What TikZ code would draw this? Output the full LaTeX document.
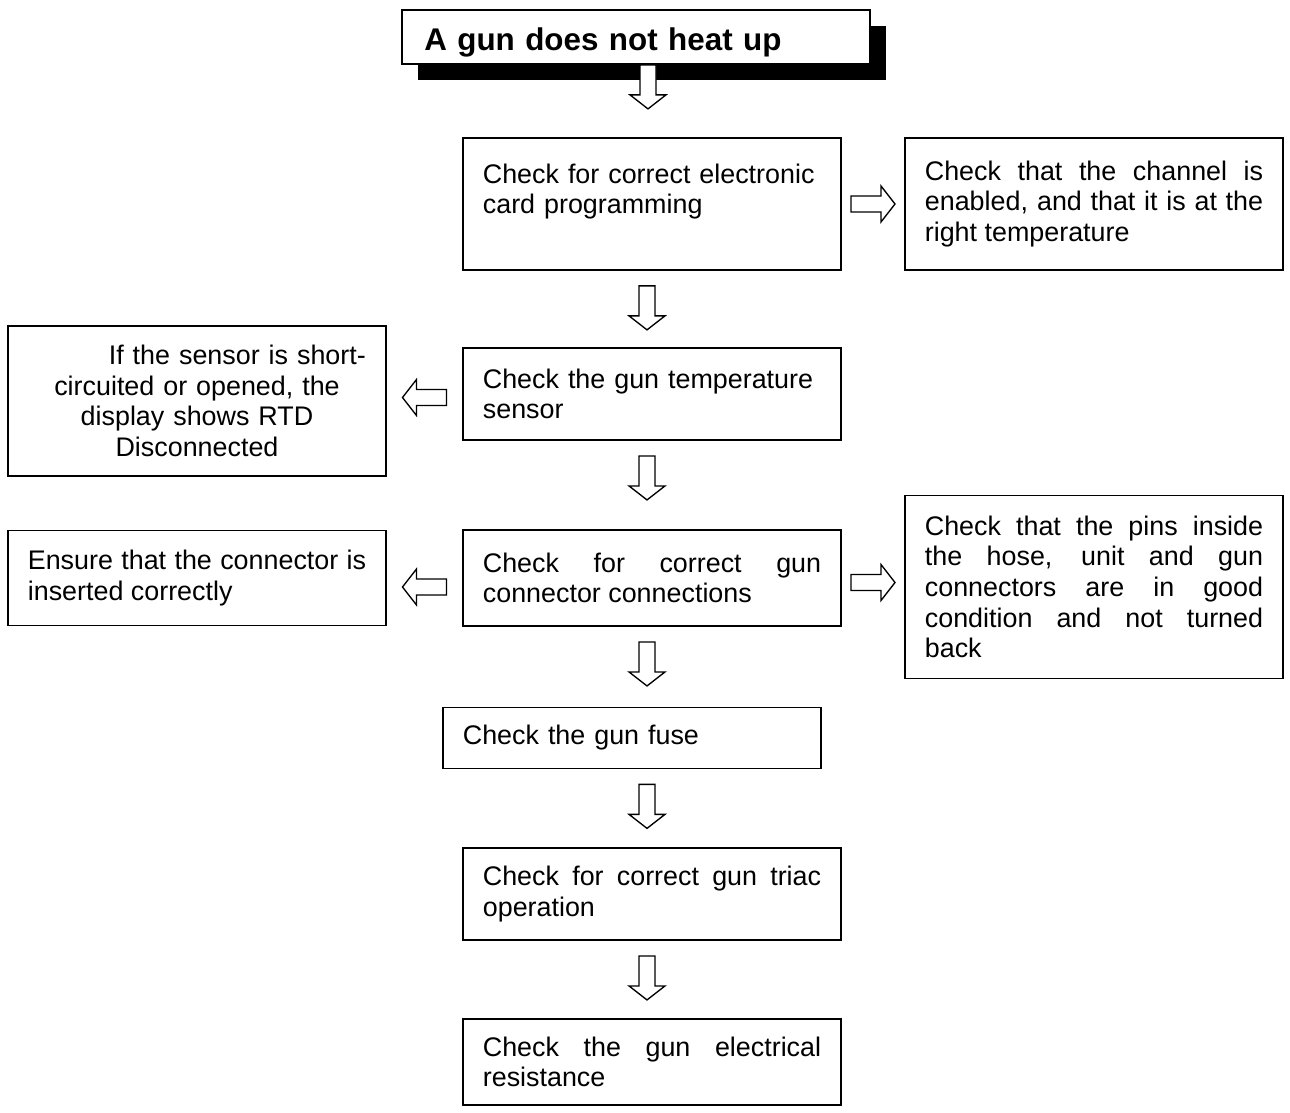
\documentclass[tikz,border=0pt]{standalone}
\usepackage{fontspec}
\setmainfont{Liberation Sans}
\usepackage{tikz}
\usetikzlibrary{calc,shadows}
\tolerance=9999
\hyphenpenalty=10000
\tikzset{
  stepbox/.style={draw=black, line width=0.8pt, fill=white, rectangle,
    text width=151pt, inner xsep=9pt, inner ysep=0pt,
    font=\fontsize{12}{13.7}\selectfont},
  plainbox/.style={stepbox, align=left},
  justbox/.style={stepbox, align=justify},
  titlebox/.style={draw=black, line width=0.8pt, fill=white,
    text width=189pt, inner xsep=10pt, inner ysep=0pt,
    minimum height=24.1pt, text height=13.5pt, text depth=1pt, align=left,
    font=\fontsize{14}{16}\selectfont\bfseries,
    drop shadow={shadow xshift=7.1pt, shadow yshift=-7.1pt,
                 fill=black, opacity=1}},
  fatarrow/.pic={\draw[line width=0.6pt, fill=white]
    (-22,-8) -- (8,-8) -- (8,-18) -- (22,0) -- (8,18) -- (8,8) -- (-22,8) -- cycle;},
}

\begin{document}
\begin{tikzpicture}[x=0.4464pt, y=-0.4464pt]
\useasboundingbox (0,0) rectangle (1290,1113);

\node[titlebox] (title) at (636,37) {A gun does not heat up};

\node[plainbox, minimum height=58.9pt] (prog) at (652,204)
  {Check for correct electronic\\card programming\\~};
\node[justbox, minimum height=58.9pt] (chan) at (1094,204)
  {Check that the channel is\linebreak enabled, and that it is at the\linebreak right temperature};
\node[plainbox, minimum height=41.1pt] (sensor) at (652,394)
  {Check the gun temperature\\sensor};
\node[stepbox, align=center, minimum height=67pt] (rtd) at (197,401)
  {\hspace*{36pt}If the sensor is short-\\circuited or opened, the\\display shows RTD\\Disconnected};
\node[justbox, minimum height=42.9pt] (conn) at (652,578)
  {Check for correct gun\linebreak connector connections};
\node[justbox, minimum height=42.4pt] (insert) at (197,578)
  {Ensure that the connector is\linebreak inserted correctly};
\node[justbox, minimum height=81.7pt] (pins) at (1094,587)
  {Check that the pins inside\linebreak the hose, unit and gun\linebreak connectors are in good\linebreak condition and not turned\linebreak back};
\node[plainbox, minimum height=27.2pt] (fuse) at (632,738) {Check the gun fuse};
\node[justbox, minimum height=41.1pt] (triac) at (652,894)
  {Check for correct gun triac\linebreak operation};
\node[justbox, minimum height=38.4pt] (resist) at (652,1062)
  {Check the gun electrical\linebreak resistance};

% block arrows between the steps
\coordinate (spine) at (647,0);
\pic[rotate=-90] at ($(title.south)+(12,22)$) {fatarrow};
\foreach \a in {prog,sensor,conn,fuse,triac}
  \pic[rotate=-90] at ($(\a.south -| spine)+(0,37)$) {fatarrow};
\pic at ($(prog.east)!0.5!(chan.west)$) {fatarrow};
\pic at ($(conn.east)!0.5!(pins.west)$) {fatarrow};
\pic[rotate=180] at ($(sensor.west)!0.5!(rtd.east)$) {fatarrow};
\pic[rotate=180] at ($(conn.west)!0.5!(insert.east)+(0,9)$) {fatarrow};
\end{tikzpicture}
\end{document}
